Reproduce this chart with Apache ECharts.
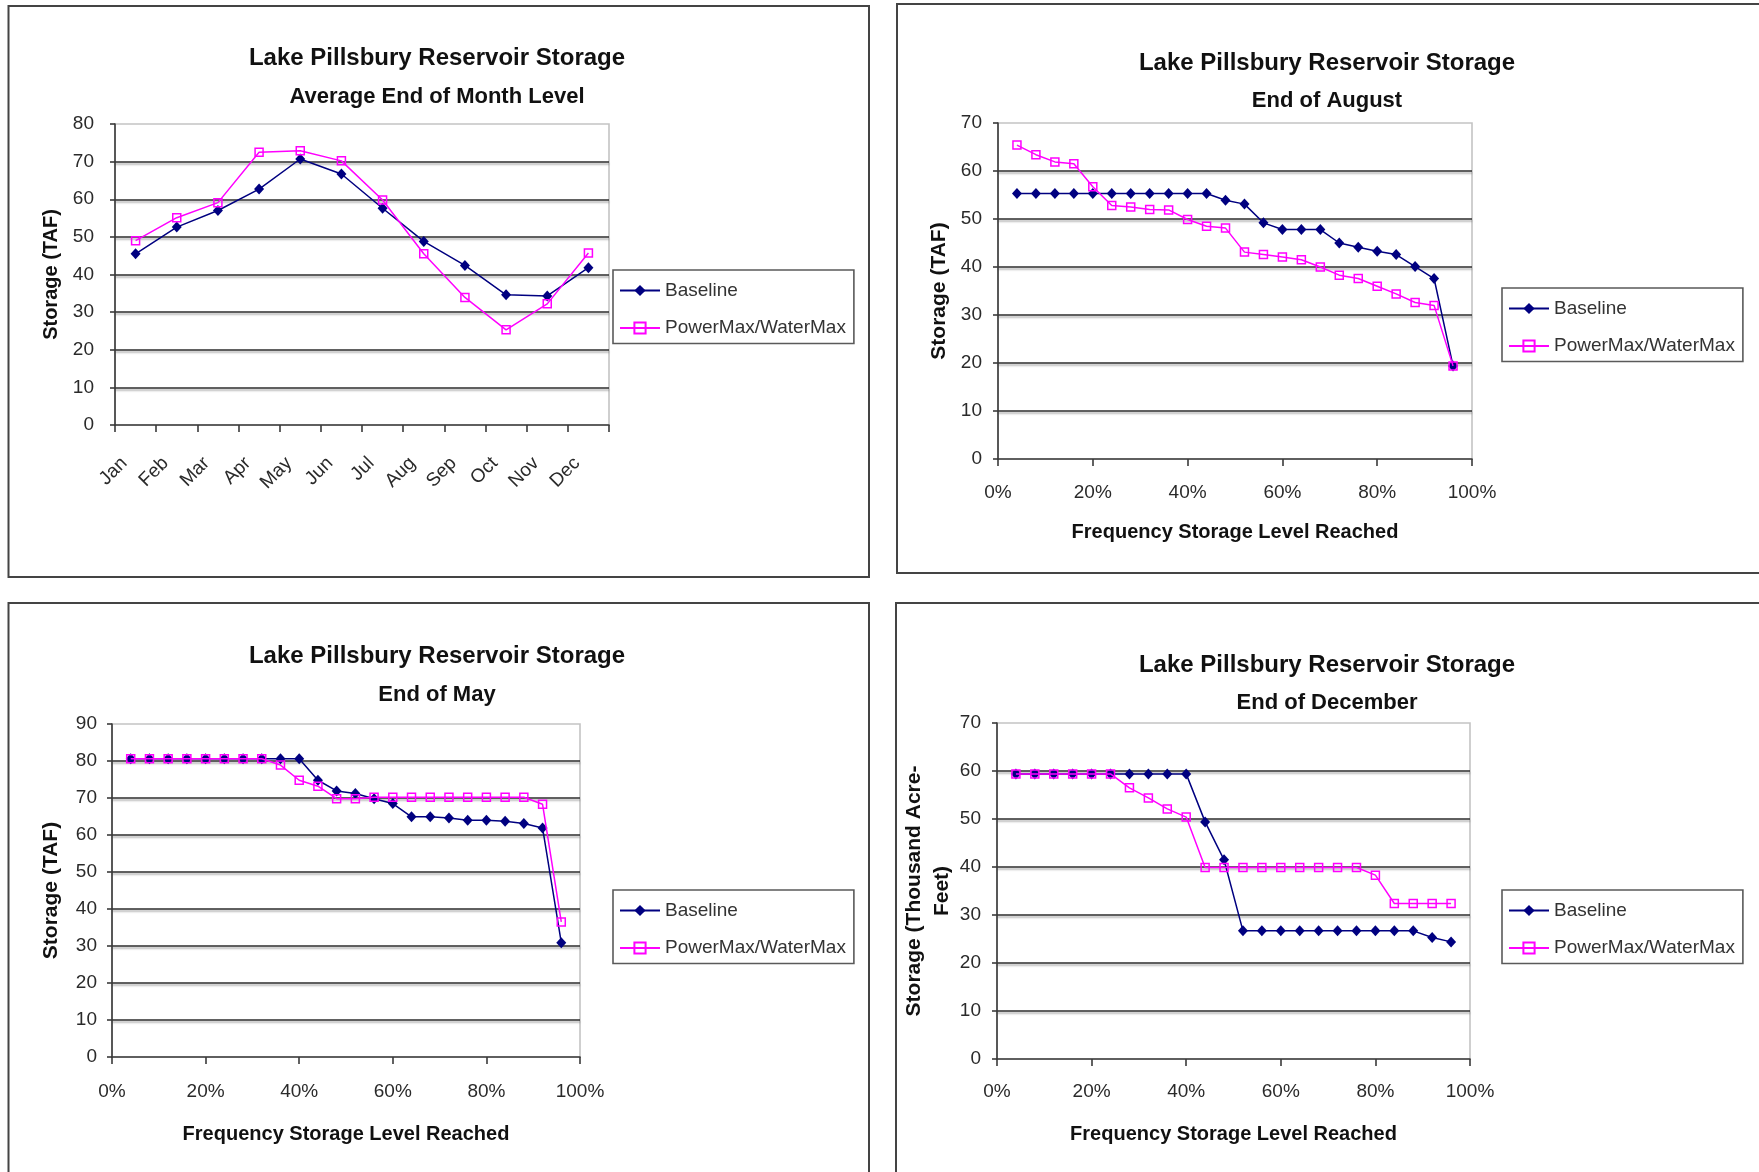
<!DOCTYPE html>
<html>
<head>
<meta charset="utf-8">
<title>Lake Pillsbury Reservoir Storage</title>
<script src="https://cdn.jsdelivr.net/npm/echarts@6/dist/echarts.min.js"></script>
<style>
  html, body { margin: 0; padding: 0; background: #ffffff; }
  #chart { width: 1759px; height: 1172px; }
</style>
</head>
<body>
<div id="chart"></div>
<script>
// Lake Pillsbury storage, thousand acre-feet (TAF)

const seriesNames = ['Baseline', 'PowerMax/WaterMax'];

// Average end-of-month level
const months = ['Jan', 'Feb', 'Mar', 'Apr', 'May', 'Jun', 'Jul', 'Aug', 'Sep', 'Oct', 'Nov', 'Dec'];
const avgBaseline = [45.5, 52.6, 57.0, 62.7, 70.7, 66.7, 57.6, 48.8, 42.4, 34.6, 34.3, 41.8];
const avgPowerMax = [49.0, 55.1, 59.1, 72.5, 72.9, 70.2, 59.8, 45.5, 33.9, 25.3, 32.2, 45.7];

// Exceedance frequency of each ranked year
const freq = [0.04, 0.08, 0.12, 0.16, 0.20, 0.24, 0.28, 0.32, 0.36, 0.40, 0.44, 0.48,
              0.52, 0.56, 0.60, 0.64, 0.68, 0.72, 0.76, 0.80, 0.84, 0.88, 0.92, 0.96];

// End of August
const augBaseline = [55.3, 55.3, 55.3, 55.3, 55.3, 55.3, 55.3, 55.3, 55.3, 55.3, 55.3, 53.9,
                     53.1, 49.2, 47.8, 47.8, 47.8, 45.0, 44.1, 43.3, 42.6, 40.1, 37.6, 19.4];
const augPowerMax = [65.4, 63.4, 61.9, 61.5, 56.7, 52.8, 52.5, 52.0, 51.9, 49.9, 48.5, 48.1,
                     43.1, 42.6, 42.1, 41.5, 40.0, 38.3, 37.6, 36.0, 34.4, 32.6, 32.0, 19.4];

// End of May
const mayBaseline = [80.6, 80.6, 80.6, 80.6, 80.6, 80.6, 80.6, 80.6, 80.6, 80.6, 74.8, 71.9,
                     71.2, 69.8, 68.5, 64.9, 64.9, 64.6, 64.0, 64.0, 63.7, 63.1, 61.9, 30.9];
const mayPowerMax = [80.6, 80.6, 80.6, 80.6, 80.6, 80.6, 80.6, 80.6, 78.9, 74.8, 73.2, 69.8,
                     69.8, 70.2, 70.2, 70.2, 70.2, 70.2, 70.2, 70.2, 70.2, 70.2, 68.3, 36.5];

// End of December
const decBaseline = [59.4, 59.4, 59.4, 59.4, 59.4, 59.4, 59.4, 59.4, 59.4, 59.4, 49.4, 41.5,
                     26.7, 26.7, 26.7, 26.7, 26.7, 26.7, 26.7, 26.7, 26.7, 26.7, 25.3, 24.4];
const decPowerMax = [59.4, 59.4, 59.4, 59.4, 59.4, 59.4, 56.5, 54.4, 52.1, 50.4, 39.9, 39.9,
                     39.9, 39.9, 39.9, 39.9, 39.9, 39.9, 39.9, 38.3, 32.4, 32.4, 32.4, 32.4];

const FONT = '"Liberation Sans", Arial, Helvetica, sans-serif';
const INK = '#2a2a2a';
const AXIS = '#3a3a3a';
const NAVY = '#000080';
const MAGENTA = '#ff00ff';

// Page layout of the four panels
const panels = [
  { title: 'Average End of Month Level', titleX: 437, titleTop: 45, gap: 14,
    grid: { left: 115, top: 124, width: 494, height: 301 },
    yMax: 80, yName: 'Storage (TAF)', yNameSize: 20, yNameGap: 50, yLabelMargin: 21,
    xNameGap: 63, xLabelMargin: 24,
    legend: { left: 613, top: 270 },
    frame: { x: 8.5, y: 6, width: 860.5, height: 571 } },
  { title: 'End of August', titleX: 1327, titleTop: 50, gap: 13,
    grid: { left: 998, top: 123, width: 474, height: 336 },
    yMax: 70, yName: 'Storage (TAF)', yNameSize: 21, yNameGap: 45, yLabelMargin: 16,
    xNameGap: 63, xLabelMargin: 24,
    legend: { left: 1502, top: 288 },
    frame: { x: 897, y: 4, width: 900, height: 569 } },
  { title: 'End of May', titleX: 437, titleTop: 643, gap: 14,
    grid: { left: 112, top: 724, width: 468, height: 333 },
    yMax: 90, yName: 'Storage (TAF)', yNameSize: 21, yNameGap: 47, yLabelMargin: 15,
    xNameGap: 67, xLabelMargin: 25,
    legend: { left: 613, top: 890 },
    frame: { x: 8.5, y: 603, width: 860.5, height: 620 } },
  { title: 'End of December', titleX: 1327, titleTop: 652, gap: 13,
    grid: { left: 997, top: 723, width: 473, height: 336 },
    yMax: 70, yName: 'Storage (Thousand Acre-\nFeet)', yNameSize: 21, yNameGap: 35, yLabelMargin: 16,
    xNameGap: 65, xLabelMargin: 23,
    legend: { left: 1502, top: 890 },
    frame: { x: 896, y: 603, width: 900, height: 620 } }
];

const seriesData = [
  [avgBaseline, avgPowerMax],
  [augBaseline, augPowerMax],
  [mayBaseline, mayPowerMax],
  [decBaseline, decPowerMax]
];

const axisLineStyle = { color: AXIS, width: 1.6 };

const titles = panels.map(p => ({
  text: 'Lake Pillsbury Reservoir Storage',
  subtext: p.title,
  left: p.titleX,
  top: p.titleTop,
  textAlign: 'center',
  padding: 0,
  itemGap: p.gap,
  textStyle: { fontFamily: FONT, fontWeight: 'bold', fontSize: 24, lineHeight: 26, color: '#111' },
  subtextStyle: { fontFamily: FONT, fontWeight: 'bold', fontSize: 22, lineHeight: 24, color: '#111' }
}));

const grids = panels.map(p => Object.assign({
  show: true,
  borderColor: '#c4c4c4',
  borderWidth: 1.6,
  backgroundColor: 'transparent',
  containLabel: false,
  outerBoundsMode: 'none'
}, p.grid));

const legends = panels.map(p => ({
  data: seriesNames,
  orient: 'vertical',
  left: p.legend.left,
  top: p.legend.top,
  padding: [11, 8, 6, 6],
  itemWidth: 40,
  itemHeight: 14,
  itemGap: 18.5,
  borderColor: '#5a5a5a',
  borderWidth: 1.6,
  backgroundColor: '#ffffff',
  selectedMode: false,
  textStyle: { fontFamily: FONT, fontSize: 19, color: '#333' }
}));

const xAxes = panels.map((p, i) => {
  const common = {
    gridIndex: i,
    axisLine: { show: true, lineStyle: axisLineStyle },
    axisTick: { show: true, length: 7, lineStyle: axisLineStyle },
    splitLine: { show: false }
  };
  if (i === 0) {
    return Object.assign(common, {
      type: 'category',
      data: months,
      boundaryGap: true,
      axisLabel: { rotate: 45, fontFamily: FONT, fontSize: 19, color: INK, margin: p.xLabelMargin,
                   padding: [0, 16, 0, 0], interval: 0 }
    });
  }
  return Object.assign(common, {
    type: 'value',
    min: 0, max: 1, interval: 0.2,
    name: 'Frequency Storage Level Reached',
    nameLocation: 'middle',
    nameGap: p.xNameGap,
    nameTextStyle: { fontFamily: FONT, fontWeight: 'bold', fontSize: 20, color: '#111' },
    axisLabel: { fontFamily: FONT, fontSize: 19, color: INK, margin: p.xLabelMargin,
                 formatter: v => Math.round(v * 100) + '%' }
  });
});

const yAxes = panels.map((p, i) => ({
  type: 'value',
  gridIndex: i,
  min: 0, max: p.yMax, interval: 10,
  name: p.yName,
  nameLocation: 'middle',
  nameRotate: 90,
  nameGap: p.yNameGap,
  nameTextStyle: { fontFamily: FONT, fontWeight: 'bold', fontSize: p.yNameSize,
                   lineHeight: 28, color: '#111' },
  axisLine: { show: true, lineStyle: axisLineStyle },
  axisTick: { show: true, length: 5, lineStyle: axisLineStyle },
  axisLabel: { fontFamily: FONT, fontSize: 19, color: INK, margin: p.yLabelMargin },
  splitLine: {
    show: true,
    showMinLine: false,
    showMaxLine: false,
    lineStyle: { color: '#2e2e2e', width: 1.6, shadowColor: 'rgba(0,0,0,0.35)',
                 shadowBlur: 2, shadowOffsetY: 2 }
  }
}));

function baselineSeries(i, values) {
  return {
    name: seriesNames[0], type: 'line', xAxisIndex: i, yAxisIndex: i,
    data: i === 0 ? values : values.map((v, k) => [freq[k], v]),
    symbol: 'diamond', symbolSize: [10, 11],
    itemStyle: { color: NAVY },
    lineStyle: { color: NAVY, width: 1.5 },
    emphasis: { disabled: true },
    z: 3
  };
}

function powerSeries(i, values) {
  return {
    name: seriesNames[1], type: 'line', xAxisIndex: i, yAxisIndex: i,
    data: i === 0 ? values : values.map((v, k) => [freq[k], v]),
    symbol: 'rect', symbolSize: 8,
    itemStyle: { color: 'rgba(255,255,255,0)', borderColor: MAGENTA, borderWidth: 1.5 },
    lineStyle: { color: MAGENTA, width: 1.5 },
    emphasis: { disabled: true },
    z: 4
  };
}

const series = [];
seriesData.forEach((pair, i) => {
  series.push(baselineSeries(i, pair[0]));
  series.push(powerSeries(i, pair[1]));
});

const frames = panels.map(p => ({
  type: 'rect',
  shape: p.frame,
  style: { fill: 'none', stroke: '#444', lineWidth: 2 },
  silent: true,
  z: 100
}));

const chart = echarts.init(document.getElementById('chart'), null, { renderer: 'canvas' });
chart.setOption({
  backgroundColor: '#ffffff',
  animation: false,
  title: titles,
  grid: grids,
  legend: legends,
  xAxis: xAxes,
  yAxis: yAxes,
  series: series,
  graphic: frames
});
</script>
</body>
</html>
